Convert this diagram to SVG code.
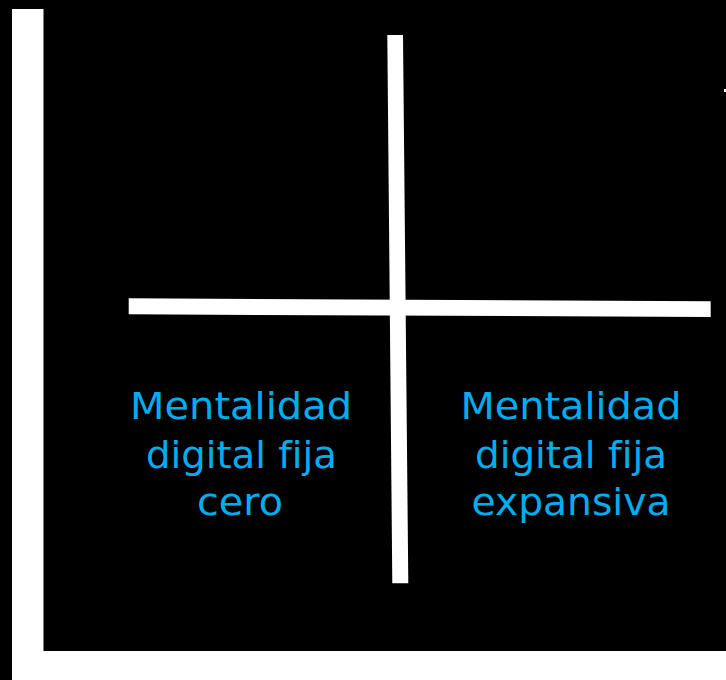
<svg xmlns="http://www.w3.org/2000/svg" width="726" height="680" viewBox="0 0 726 680">
<style>
.bar{fill:#ffffff}
.lbl{font-family:"DejaVu Sans","Liberation Sans",sans-serif;font-size:38px;fill:#00AEEF;text-anchor:middle;font-variant-ligatures:none;font-feature-settings:"liga" 0}
</style>
<rect x="0" y="0" width="726" height="680" fill="#000000"/>
<g id="frame">
<rect class="bar" x="12" y="9" width="31.5" height="671"/>
<rect class="bar" x="43" y="651" width="683" height="29"/>
<rect class="bar" x="724" y="89" width="2" height="3"/>
</g>
<g id="connectors">
<polygon class="bar" points="387.3,35 403,35 408.3,583.3 392.3,583.3"/>
<polygon class="bar" points="128.7,298.3 710.7,301.3 710.7,317 128.7,314.3"/>
</g>
<g id="node-cero">
<text class="lbl" x="241" y="419" textLength="222" lengthAdjust="spacingAndGlyphs">Mentalidad</text>
<text class="lbl" x="241.5" y="468" textLength="191" lengthAdjust="spacingAndGlyphs">digital fija</text>
<text class="lbl" x="240" y="515" textLength="86" lengthAdjust="spacingAndGlyphs">cero</text>
</g>
<g id="node-expansiva">
<text class="lbl" x="571" y="419" textLength="221" lengthAdjust="spacingAndGlyphs">Mentalidad</text>
<text class="lbl" x="571" y="468" textLength="192" lengthAdjust="spacingAndGlyphs">digital fija</text>
<text class="lbl" x="571" y="515" textLength="199" lengthAdjust="spacingAndGlyphs">expansiva</text>
</g>
</svg>
